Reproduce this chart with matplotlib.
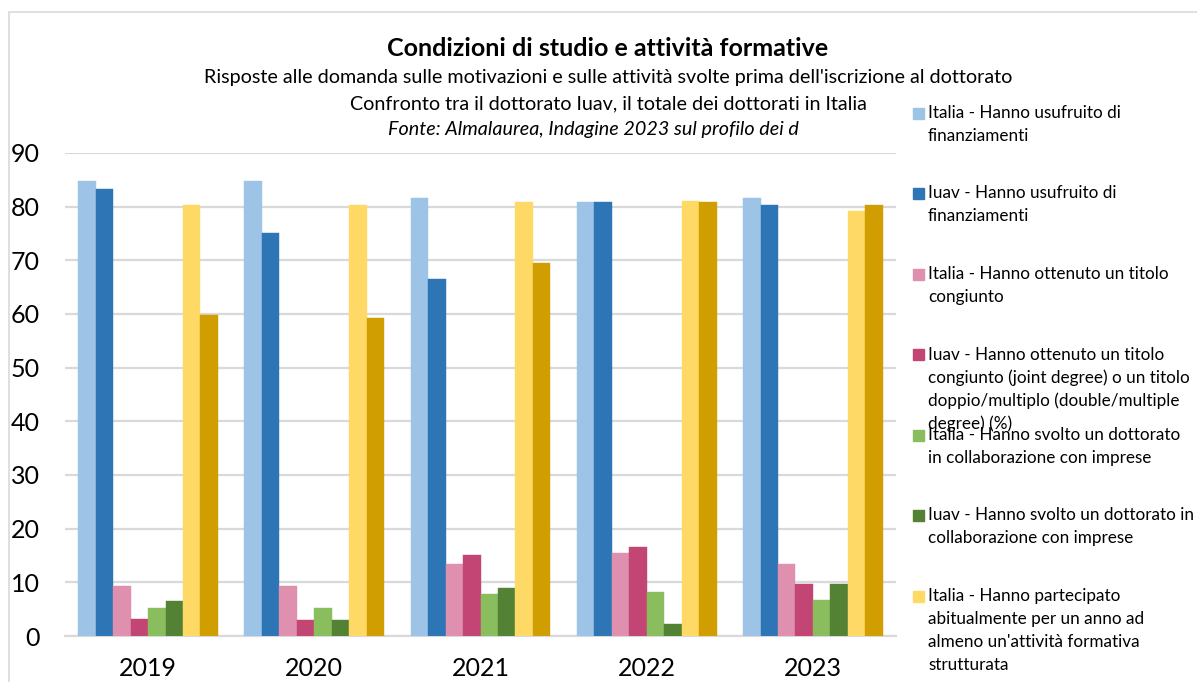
import numpy as np
import matplotlib.pyplot as plt
from matplotlib.patches import Rectangle

plt.rcParams['font.family'] = ['Lato', 'DejaVu Sans']

# dati
anni = ['2019', '2020', '2021', '2022', '2023']

italia_finanz = [84.8, 84.8, 81.7, 80.9, 81.7]
iuav_finanz = [83.2, 75.0, 66.6, 80.9, 80.4]
italia_titolo = [9.3, 9.3, 13.4, 15.4, 13.5]
iuav_titolo = [3.2, 3.0, 15.1, 16.6, 9.6]
italia_imprese = [5.3, 5.3, 7.8, 8.2, 6.7]
iuav_imprese = [6.5, 3.0, 8.9, 2.3, 9.6]
italia_formativa = [80.4, 80.4, 80.8, 81.1, 79.2]
iuav_formativa = [59.9, 59.3, 69.5, 80.9, 80.4]

etichette = [
    "Italia - Hanno usufruito di\nfinanziamenti",
    "Iuav - Hanno usufruito di\nfinanziamenti",
    "Italia - Hanno ottenuto un titolo\ncongiunto",
    "Iuav - Hanno ottenuto un titolo\ncongiunto (joint degree) o un titolo\ndoppio/multiplo (double/multiple\ndegree) (%)",
    "Italia - Hanno svolto un dottorato\nin collaborazione con imprese",
    "Iuav - Hanno svolto un dottorato in\ncollaborazione con imprese",
    "Italia - Hanno partecipato\nabitualmente per un anno ad\nalmeno un'attività formativa\nstrutturata",
    "Iuav - Hanno partecipato abitualmente per un anno ad\nalmeno un'attività formativa strutturata",
]

serie = [italia_finanz, iuav_finanz, italia_titolo, iuav_titolo,
         italia_imprese, iuav_imprese, italia_formativa, iuav_formativa]
colori = ['#9DC3E6', '#2E75B6', '#DE90AE', '#C34573',
          '#8ABD5E', '#548235', '#FFD966', '#D09E00']

W, H = 1197, 682
fig = plt.figure(figsize=(W / 100, H / 100), dpi=100)
ax = fig.add_axes([65 / W, 1 - 636 / H, (896 - 65) / W, (636 - 153) / H])

x = np.arange(len(anni))
larg = 0.105
for i, (vals, col) in enumerate(zip(serie, colori)):
    ax.bar(x + (i - 3.5) * larg, vals, width=larg, color=col, zorder=3,
           edgecolor=col, linewidth=0.3)

ax.set_xlim(-0.5, len(anni) - 0.5)
ax.set_ylim(0, 90)
ax.set_yticks(range(0, 91, 10))
ax.set_xticks(x)
ax.set_xticklabels(anni)
ax.yaxis.grid(True, color='#D9D9D9', linewidth=1.6, zorder=0)
ax.tick_params(axis='both', length=0, labelsize=18, colors='black')
ax.tick_params(axis='y', pad=18)
ax.tick_params(axis='x', pad=15)
for s in ['top', 'right', 'left']:
    ax.spines[s].set_visible(False)
ax.spines['bottom'].set_color('#D9D9D9')
ax.spines['bottom'].set_linewidth(1.6)

# titoli
fig.text(608 / W, 1 - 48 / H, "Condizioni di studio e attività formative",
         ha='center', va='center', fontsize=18, fontweight='bold')
fig.text(608 / W, 1 - 78 / H,
         "Risposte alle domanda sulle motivazioni e sulle attività svolte prima dell'iscrizione al dottorato",
         ha='center', va='center', fontsize=14.2)
fig.text(608 / W, 1 - 104 / H,
         "Confronto tra il dottorato Iuav, il totale dei dottorati in Italia",
         ha='center', va='center', fontsize=14.2)
fig.text(593 / W, 1 - 130 / H,
         "Fonte: Almalaurea, Indagine 2023 sul profilo dei d",
         ha='center', va='center', fontsize=14.2, style='italic')

# legenda manuale (l'ultima voce è fuori dal riquadro)
y0 = 113
passo = 80.5
riga = 23
for i in range(7):
    yc = y0 + i * passo
    fig.add_artist(Rectangle((913 / W, 1 - (yc + 5.5) / H), 11 / W, 11 / H,
                             transform=fig.transFigure, color=colori[i]))
    for k, testo in enumerate(etichette[i].split('\n')):
        fig.text(928 / W, 1 - (yc + k * riga) / H, testo,
                 ha='left', va='center', fontsize=12.3)

# cornice del grafico
fig.add_artist(Rectangle((9 / W, -0.1), 1.2, 1.1 - 12 / H, transform=fig.transFigure,
                         fill=False, edgecolor='#D9D9D9', linewidth=1.2))

fig.savefig('out.png', dpi=100)
